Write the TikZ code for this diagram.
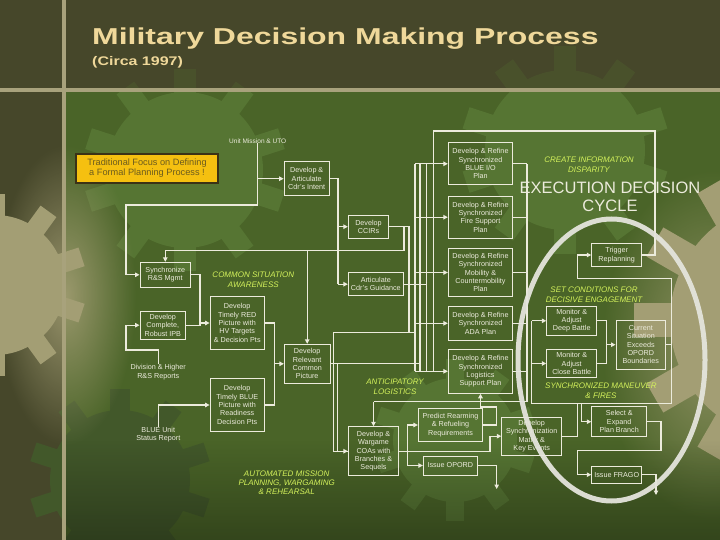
\documentclass[tikz,border=0pt]{standalone}
\usepackage{fontspec}
\setmainfont{Liberation Sans}
\usetikzlibrary{arrows.meta,calc,shapes.geometric,fadings}
\definecolor{topband}{HTML}{46472A}
\definecolor{mainbg}{HTML}{4A6428}
\definecolor{gearlt}{HTML}{567533}
\definecolor{geardk}{HTML}{42582A}
\definecolor{stripec}{HTML}{A8A27C}
\definecolor{tanc}{HTML}{A39E74}
\definecolor{linec}{HTML}{ECEBDC}
\definecolor{labc}{HTML}{D4F25C}
\definecolor{titlec}{HTML}{EFD89A}
\definecolor{yelbox}{HTML}{F5C010}
\definecolor{yeltext}{HTML}{6B5B1E}
\definecolor{yelbord}{HTML}{3B3216}
\definecolor{ellc}{HTML}{E4E4DC}
\tikzfading[name=softglow, inner color=transparent!0, outer color=transparent!100]
\newcommand{\gearat}[5]{%
 \begin{scope}[shift={(#1,#2)}]
 \fill[#5] (0,0) circle[radius=#3];
 \foreach \gi in {1,...,#4}{\fill[#5, rotate=\gi*360/#4] (-0.14*#3,0) rectangle (0.14*#3,1.3*#3);}
 \end{scope}}
\begin{document}
\begin{tikzpicture}[x=1pt,y=-1pt,
 box/.style={draw=linec, line width=0.9pt, text=linec, align=center, inner sep=0pt, font=\fontsize{7.2}{8.3}\selectfont},
 plain/.style={text=linec, align=center, inner sep=0pt, font=\fontsize{7.2}{8.3}\selectfont},
 lab/.style={text=labc, align=center, inner sep=0pt, font=\fontsize{8}{10}\selectfont\itshape},
 conn/.style={draw=linec, line width=1.3pt},
 arr/.style={conn, -{Triangle[length=4.5pt,width=4.5pt]}},
]
\useasboundingbox (0,0) rectangle (720,540);
\clip (0,0) rectangle (720,540);
% background
\fill[topband] (0,0) rectangle (720,540);
\fill[mainbg] (66,92) rectangle (720,540);
\gearat{185}{170}{78}{10}{gearlt}
\gearat{565}{150}{80}{10}{gearlt}
\gearat{455}{440}{62}{10}{gearlt}
\gearat{120}{480}{70}{10}{geardk}
\gearat{-5}{285}{70}{10}{tanc}
\gearat{790}{320}{120}{12}{tanc}
\fill[tanc, path fading=softglow, opacity=0.9] (66,295) ellipse[x radius=70, y radius=150];
\fill[tanc, path fading=softglow, opacity=0.8] (712,345) ellipse[x radius=110, y radius=175];
\fill[black, path fading=north, opacity=0.3] (66,440) rectangle (720,540);
\fill[topband, opacity=0.78] (0,0) rectangle (720,88);
\fill[stripec] (0,88) rectangle (720,92);
\fill[stripec] (62,0) rectangle (66,540);
% title
\node[anchor=base west, inner sep=0pt, text=titlec, font=\fontsize{23}{23}\selectfont\bfseries] (title) at (92,45) {\scalebox{1.39}[1]{Military Decision Making Process}};
\node[anchor=base west, inner sep=0pt, text=titlec, font=\fontsize{12.5}{12.5}\selectfont\bfseries] (circa) at (92,66) {\scalebox{1.28}[1]{(Circa 1997)}};
% nodes
\node[plain, font=\fontsize{6.5}{8}\selectfont] (unit) at (257.7,140.7) {Unit Mission \& UTO};
\node[draw=yelbord, line width=1.6pt, fill=yelbox, text=yeltext, minimum width=142, minimum height=29, align=center, inner sep=0pt, font=\fontsize{9.2}{10}\selectfont] (trad) at (147,168.5) {Traditional Focus on Defining\\a Formal Planning Process !};
\node[box, minimum width=45.3, minimum height=34] (intent) at (306.7,178.7) {Develop \&\\Articulate\\Cdr's Intent};
\node[box, minimum width=40.4, minimum height=23.3] (ccir) at (368.5,226.7) {Develop\\CCIRs};
\node[box, minimum width=55, minimum height=23] (guid) at (375.8,284.2) {Articulate\\Cdr's Guidance};
\node[box, minimum width=50.7, minimum height=25] (sync) at (165.3,274.8) {Synchronize\\R\&S Mgmt};
\node[box, minimum width=45.7, minimum height=28.3] (ipb) at (162.8,325.2) {Develop\\Complete,\\Robust IPB};
\node[box, minimum width=54.3, minimum height=52.6] (red) at (237.2,323) {Develop\\Timely RED\\Picture with\\HV Targets\\\& Decision Pts};
\node[box, minimum width=54.3, minimum height=53.4] (blue) at (237.2,405) {Develop\\Timely BLUE\\Picture with\\Readiness\\Decision Pts};
\node[box, minimum width=45.7, minimum height=39] (rcp) at (307.2,363.8) {Develop\\Relevant\\Common\\Picture};
\node[plain] (div) at (158.3,372) {Division \& Higher\\R\&S Reports};
\node[plain] (bur) at (158.3,434.5) {BLUE Unit\\Status Report};
\node[box, minimum width=64.4, minimum height=42.3] (p1) at (480.5,163.8) {Develop \& Refine\\Synchronized\\BLUE I/O\\Plan};
\node[box, minimum width=64.4, minimum height=42.3] (p2) at (480.5,217.2) {Develop \& Refine\\Synchronized\\Fire Support\\Plan};
\node[box, minimum width=64.4, minimum height=48.4] (p3) at (480.5,272.5) {Develop \& Refine\\Synchronized\\Mobility \&\\Countermobility\\Plan};
\node[box, minimum width=64.4, minimum height=33.3] (p4) at (480.5,323.3) {Develop \& Refine\\Synchronized\\ADA Plan};
\node[box, minimum width=64.4, minimum height=44] (p5) at (480.5,371.3) {Develop \& Refine\\Synchronized\\Logistics\\Support Plan};
\node[box, minimum width=50.4, minimum height=49] (war) at (373.5,451.2) {Develop \&\\Wargame\\COAs with\\Branches \&\\Sequels};
\node[box, minimum width=64.4, minimum height=33.4] (pred) at (450.5,425) {Predict Rearming\\\& Refueling\\Requirements};
\node[box, minimum width=54, minimum height=19] (opord) at (450.3,465.5) {Issue OPORD};
\node[box, minimum width=60, minimum height=37.5] (matrix) at (531.7,436.2) {Develop\\Synchronization\\Matrix \&\\Key Events};
\node[box, minimum width=50, minimum height=23.4] (trig) at (616.7,255) {Trigger\\Replanning};
\node[box, minimum width=50, minimum height=28.3] (deep) at (571.7,320.8) {Monitor \&\\Adjust\\Deep Battle};
\node[box, minimum width=50, minimum height=28.4] (close) at (571.7,363.5) {Monitor \&\\Adjust\\Close Battle};
\node[box, minimum width=49.7, minimum height=49.3] (cur) at (640.8,344.7) {Current\\Situation\\Exceeds\\OPORD\\Boundaries};
\node[box, minimum width=55, minimum height=30] (sel) at (619.2,421.7) {Select \&\\Expand\\Plan Branch};
\node[box, minimum width=50, minimum height=17.3] (frago) at (616.7,474.7) {Issue FRAGO};
% labels
\node[lab] (l1) at (253.3,280) {COMMON SITUATION\\AWARENESS};
\node[lab] (l2) at (395,386.7) {ANTICIPATORY\\LOGISTICS};
\node[lab, font=\fontsize{8}{9.3}\selectfont\itshape] (l3) at (286.7,482.7) {AUTOMATED MISSION\\PLANNING, WARGAMING\\\& REHEARSAL};
\node[lab] (l4) at (589,164.5) {CREATE INFORMATION\\DISPARITY};
\node[lab] (l5) at (594,295) {SET CONDITIONS FOR\\DECISIVE ENGAGEMENT};
\node[lab] (l6) at (601,390.7) {SYNCHRONIZED MANEUVER\\\& FIRES};
\node[text=linec, align=center, inner sep=0pt, font=\fontsize{16.5}{18.3}\selectfont] (exec) at (610,197) {EXECUTION DECISION\\CYCLE};
% helper coordinates
\coordinate (j1) at (257.7,205);
\coordinate (b1) at (338,178.7);
\coordinate (h1) at (0,250.7);
\coordinate (h3) at (0,401.7);
\coordinate (bx) at (415,0);
\coordinate (rx) at (527,0);
\coordinate (oend) at (496.7,489);
\coordinate (fend) at (656,495);
% connectors: planning
\draw[arr] (unit.south) -- (j1) -| (126,274.8) -- (sync.west);
\draw[arr] (unit.south |- intent.west) -- (intent.west);
\draw[conn] (intent.east) -- (b1) -- (338,284.2);
\draw[arr] (b1 |- ccir.west) -- (ccir.west);
\draw[arr] (b1 |- guid.west) -- (guid.west);
\draw[conn] (ccir.east) -- (409,226.7) -- (409,332.7);
\draw[conn] (404,226.7) -- (404,250.7) -- (165.3,250.7);
\draw[arr] (sync.north |- h1) -- (sync.north);
\draw[arr] (rcp.north |- h1) -- (rcp.north);
\draw[arr] (sync.east) -| (200,323) -- (red.west);
\draw[conn] (ipb.east) -| (200,323);
\draw[arr] (div.north) -- (158.3,350) -- (126,350) -- (126,325.2) -- (ipb.west);
\draw[arr] (bur.north) |- (blue.west);
\draw[conn] (red.east) -| (274.3,405) -- (blue.east);
\draw[arr] (274.3,363.8) -- (rcp.west);
\draw[conn] (rcp.east) -- (420,363.8);
\draw[conn] (333.3,332.7) -- (415,332.7);
\draw[conn] (333.3,332.7) -- (333.3,451.2) -- (war.west);
\draw[arr] (337.7,363.8) -- (337.7,451.2) -- (war.west);
\draw[conn] (guid.east) -- (426.7,284.2);
\draw[conn] (415,163.8) -- (415,371.3);
\draw[conn] (420,163.8) -- (420,371.3);
\draw[conn] (426.7,163.8) -- (426.7,371.3);
\draw[conn] (trig.east) -- (655,255) -- (655,131) -- (433.3,131) -- (433.3,371.3);
\foreach \p in {p1,p2,p3,p4,p5}{\draw[arr] (\p.west -| bx) -- (\p.west);}
\foreach \p in {p1,p2,p3,p4,p5}{\draw[conn] (\p.east) -- (\p.east -| rx);}
\draw[conn] (527,163.8) -- (527,401.7) -- (373.5,401.7);
\draw[arr] (war.north |- h3) -- (war.north);
\draw[arr] (pred.east) -- (496.7,425) -- (496.7,407) -- (480.5,407) -- (p5.south);
\draw[arr] (war.east) -- (490,451.2) |- (matrix.west);
\draw[arr] (407.3,451.2) |- (pred.west);
\draw[arr] (407.3,451.2) |- (opord.west);
\draw[arr] (opord.east) -| (oend);
% connectors: execution
\draw[conn] (deep.east) -| (606.7,363.5) -- (close.east);
\draw[arr] (606.7,344.7) -- (cur.west);
\draw[conn] (cur.east) -- (671.7,344.7);
\draw[conn] (671.7,278.3) -- (671.7,403.3) -- (531.7,403.3) -- (531.7,320.8);
\draw[arr] (671.7,278.3) -- (577.3,278.3) |- (trig.west);
\draw[arr] (531.7,320.8) -- (deep.west);
\draw[arr] (531.7,363.5) -- (close.west);
\draw[arr] (581.7,403.3) |- (sel.west);
\draw[conn] (matrix.east) -| (577.3,403.3);
\draw[arr] (sel.east) -| (661,450.7) -| (577.3,474.7) -- (frago.west);
\draw[arr] (frago.east) -| (fend);
% ellipse
\node[ellipse, draw=ellc, line width=5pt, opacity=0.95, minimum width=187, minimum height=282, inner sep=0pt] (ell) at (611.5,360) {};
\end{tikzpicture}
\end{document}
